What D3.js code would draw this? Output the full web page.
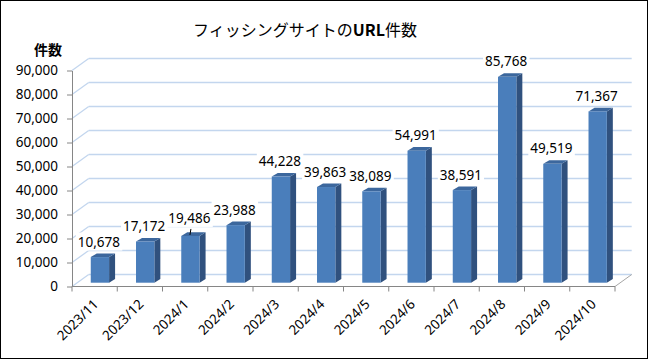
<!DOCTYPE html>
<html><head><meta charset="utf-8">
<script src="https://cdn.jsdelivr.net/npm/d3@7"></script>
<style>html,body{margin:0;padding:0;background:#fff;}svg{display:block;}</style>
</head><body>
<script>
const categories = ["2023/11","2023/12","2024/1","2024/2","2024/3","2024/4","2024/5","2024/6","2024/7","2024/8","2024/9","2024/10"];
const values = [10678,17172,19486,23988,44228,39863,38089,54991,38591,85768,49519,71367];
const yTicks = [0,10000,20000,30000,40000,50000,60000,70000,80000,90000];
const title = ["フィッシングサイトの","URL","件数"];
const yTitle = "件数";

const W = 651, H = 360;
const FS = "13.5px";
const svg = d3.select("body").append("svg").attr("width", W).attr("height", H);
svg.append("rect").attr("x",0.5).attr("y",0.5).attr("width",647).attr("height",358)
  .attr("fill","#fff").attr("stroke","#000").attr("stroke-width",1);

const x = d3.scaleBand().domain(categories).range([72, 615]).padding(0);
const y = d3.scaleLinear().domain([0, 90000]).range([286.5, 70.5]);
const DX = 16.7, DY = -12;      // wall depth
const BDX = 6, BDY = -3.6;      // bar depth
const OFX = 5.3, OFY = -3.8;    // bar front offset from front plane
const bw = x.bandwidth() * 0.405;

const grid = svg.append("g").attr("fill","none").attr("stroke","#c3d6ee").attr("stroke-width",1.3);
yTicks.forEach(t => {
  grid.append("line").attr("x1",72).attr("y1",y(t)).attr("x2",72+DX).attr("y2",y(t)+DY);
  grid.append("line").attr("x1",72+DX).attr("y1",y(t)+DY).attr("x2",615+DX).attr("y2",y(t)+DY);
});
svg.append("line").attr("x1",615).attr("y1",y(0)).attr("x2",615+DX).attr("y2",y(0)+DY)
  .attr("stroke","#a6a6a6").attr("stroke-width",1);

const bars = svg.append("g");
categories.forEach((c,i) => {
  const v = values[i];
  const xl = x(c) + x.bandwidth()/2 + OFX - bw/2, xr = xl + bw;
  const yb = y(0) + OFY, yt = y(v) + OFY;
  bars.append("path").attr("d", `M${xr},${yb}L${xr+BDX},${yb+BDY}L${xr+BDX},${yt+BDY}L${xr},${yt}Z`).attr("fill","#30517e");
  bars.append("path").attr("d", `M${xl},${yt}L${xl+BDX},${yt+BDY}L${xr+BDX},${yt+BDY}L${xr},${yt}Z`).attr("fill","#3c679d");
  bars.append("rect").attr("x",xl).attr("y",yt).attr("width",bw).attr("height",yb-yt).attr("fill","#4a7ebb");
});

const ya = svg.append("g").attr("transform","translate(72,0)")
  .call(d3.axisLeft(y).tickValues(yTicks).tickSize(5).tickSizeOuter(0).tickPadding(9).tickFormat(d3.format(",")));
ya.select(".domain").attr("stroke","#868686");
ya.selectAll(".tick line").attr("stroke","#868686");
ya.selectAll("text").attr("font-family","'Noto Sans', sans-serif").attr("font-size",FS).attr("fill","#000");

svg.append("line").attr("x1",72).attr("y1",y(0)).attr("x2",615).attr("y2",y(0)).attr("stroke","#868686");
const bounds = categories.map(c => x(c)).concat([x(categories[categories.length-1]) + x.bandwidth()]);
svg.append("g").selectAll("line").data(bounds).join("line")
  .attr("x1",d=>d).attr("x2",d=>d).attr("y1",y(0)).attr("y2",y(0)+5).attr("stroke","#868686");
svg.append("g").selectAll("text").data(categories).join("text")
  .attr("transform", c => `translate(${x(c)+x.bandwidth()/2+4.5},305) rotate(-45)`)
  .attr("text-anchor","end").attr("font-family","'Noto Sans', sans-serif").attr("font-size",FS).attr("fill","#000")
  .text(c => c);

const lg = svg.append("g");
categories.forEach((c,i) => {
  const v = values[i];
  const cx = x(c) + x.bandwidth()/2 + OFX - 1;
  const yt = y(v) + OFY;
  const lift = i === 2 ? 18 : 15.5;
  const t = lg.append("text").attr("x",cx).attr("y",yt - lift + 5).attr("text-anchor","middle")
    .attr("font-family","'Noto Sans', sans-serif").attr("font-size",FS).attr("fill","#000")
    .text(d3.format(",")(v));
  const bb = t.node().getBBox();
  lg.insert("rect", () => t.node()).attr("x",bb.x-2).attr("y",bb.y).attr("width",bb.width+4).attr("height",bb.height).attr("fill","#fff");
  if (i === 2) {
    lg.append("line").attr("x1",cx+1.5).attr("y1",yt-7).attr("x2",cx+0.5).attr("y2",yt-1).attr("stroke","#000").attr("stroke-width",1);
  }
});

const tt = svg.append("text").attr("x",305).attr("y",36).attr("text-anchor","middle")
  .attr("font-family","'Noto Sans CJK JP', sans-serif").attr("font-size","16px").attr("fill","#000");
tt.append("tspan").text(title[0]);
tt.append("tspan").attr("font-weight","bold").text(title[1]);
tt.append("tspan").text(title[2]);
svg.append("text").attr("x",48).attr("y",55).attr("text-anchor","middle")
  .attr("font-family","'Noto Sans CJK JP', sans-serif").attr("font-size","14px").attr("font-weight","bold").attr("fill","#000")
  .text(yTitle);
</script>
</body></html>
